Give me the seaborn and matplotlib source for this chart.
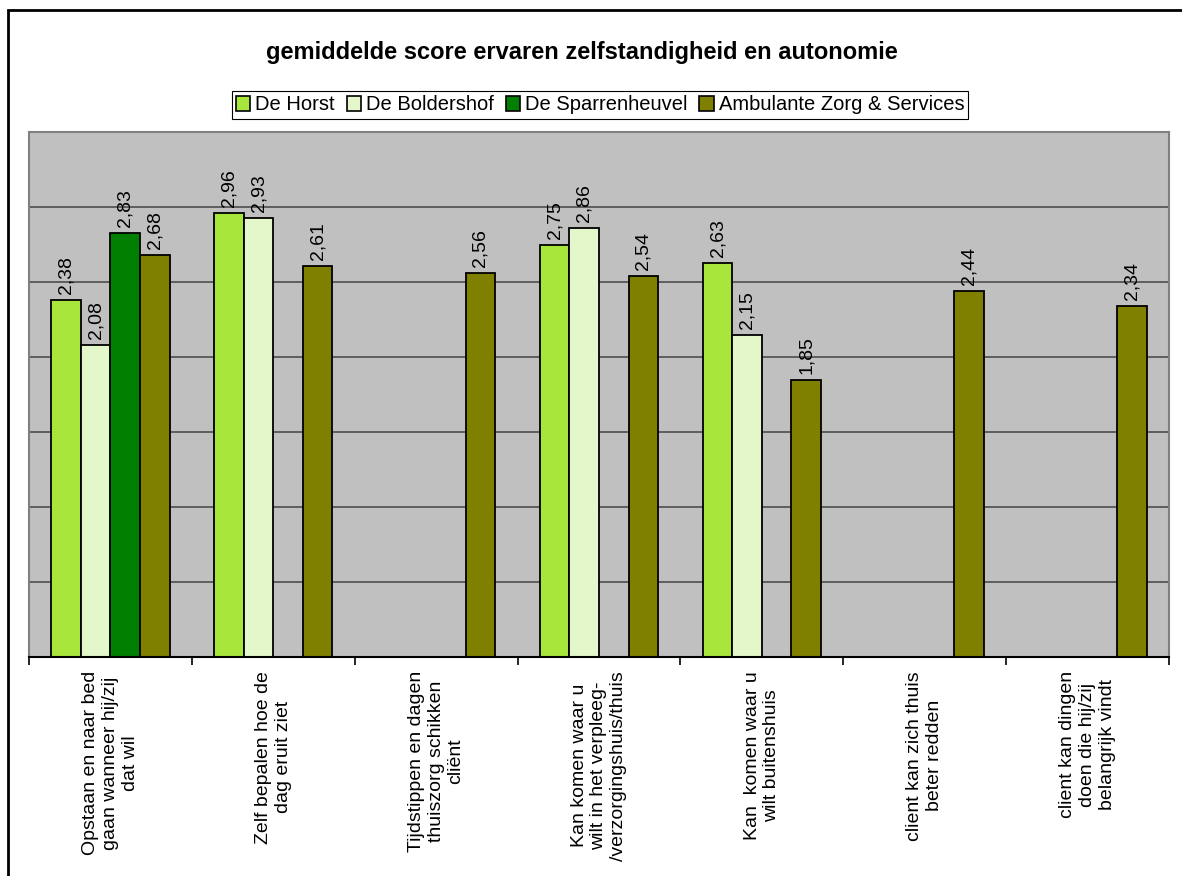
import matplotlib
matplotlib.use("Agg")
import matplotlib.pyplot as plt
import seaborn as sns
import pandas as pd
import numpy as np
from matplotlib.patches import Patch, Rectangle
from matplotlib.ticker import MultipleLocator, FixedLocator, NullFormatter

# Survey questions (x categories)
categories = [
    "Opstaan en naar bed\ngaan wanneer hij/zij\ndat wil",
    "Zelf bepalen hoe de\ndag eruit ziet",
    "Tijdstippen en dagen\nthuiszorg schikken\ncliënt",
    "Kan komen waar u\nwilt in het verpleeg-\n/verzorgingshuis/thuis",
    "Kan  komen waar u\nwilt buitenshuis",
    "client kan zich thuis\nbeter redden",
    "client kan dingen\ndoen die hij/zij\nbelangrijk vindt",
]

series_names = ["De Horst", "De Boldershof", "De Sparrenheuvel",
                "Ambulante Zorg & Services"]

# Mean scores per location (None = question not asked there)
de_horst = [2.38, 2.96, None, 2.75, 2.63, None, None]
de_boldershof = [2.08, 2.93, None, 2.86, 2.15, None, None]
de_sparrenheuvel = [2.83, None, None, None, None, None, None]
ambulante = [2.68, 2.61, 2.56, 2.54, 1.85, 2.44, 2.34]

colors = ["#A8E63C", "#E4F7CA", "#007F00", "#808000"]

title = "gemiddelde score ervaren zelfstandigheid en autonomie"

rows = []
for name, values in zip(series_names,
                        [de_horst, de_boldershof, de_sparrenheuvel, ambulante]):
    for cat, v in zip(categories, values):
        if v is not None:
            rows.append({"vraag": cat, "organisatie": name, "score": v})
df = pd.DataFrame(rows)

sns.set_style("white")
plt.rcParams["font.family"] = ["Liberation Sans", "DejaVu Sans"]
plt.rcParams["text.color"] = "black"
plt.rcParams["xtick.color"] = "black"
plt.rcParams["xtick.labelcolor"] = "black"

W, H = 1182, 876
fig = plt.figure(figsize=(W / 100, H / 100), dpi=100)
ax = fig.add_axes([29 / W, 1 - 657 / H, (1169 - 29) / W, (657 - 132) / H])

sns.barplot(data=df, x="vraag", y="score", hue="organisatie",
            order=categories, hue_order=series_names, palette=colors,
            width=0.726, errorbar=None, edgecolor="black", linewidth=1.3,
            saturation=1, legend=False, ax=ax)

ax.set_facecolor("#C0C0C0")
ax.set_xlim(-0.5, len(categories) - 0.5)
ax.set_ylim(0, 3.5)
ax.yaxis.set_major_locator(MultipleLocator(0.5))
ax.yaxis.set_major_formatter(NullFormatter())
ax.tick_params(axis="y", length=0)
ax.grid(axis="y", color="#4d4d4d", linewidth=1.2)
ax.grid(axis="x", visible=False)
ax.set_axisbelow(True)
ax.set_xlabel("")
ax.set_ylabel("")

# Category labels and boundary ticks
ax.xaxis.set_minor_locator(FixedLocator(np.arange(-0.5, len(categories), 1.0)))
ax.tick_params(axis="x", which="major", length=0, pad=10, labelcolor="black")
ax.tick_params(axis="x", which="minor", length=6, width=1.2, color="black",
               direction="out", bottom=True)
for lbl in ax.get_xticklabels():
    lbl.set_rotation(90)
    lbl.set_ha("center")
    lbl.set_va("top")
    lbl.set_multialignment("center")
    lbl.set_fontsize(14)
    lbl.set_color("black")

for side in ["left", "top", "right"]:
    ax.spines[side].set_color("#808080")
    ax.spines[side].set_linewidth(1.5)
    ax.spines[side].set_visible(True)
ax.spines["bottom"].set_color("black")
ax.spines["bottom"].set_linewidth(1.5)
ax.spines["bottom"].set_visible(True)

# Value labels above bars
for container in ax.containers:
    labels = [f"{v:.2f}".replace(".", ",") for v in container.datavalues]
    ax.bar_label(container, labels=labels, rotation=90, padding=4, fontsize=14,
                 color="black")

# Legend
handles = [Patch(facecolor=c, edgecolor="black", linewidth=1.2, label=n)
           for c, n in zip(colors, series_names)]
leg = fig.legend(handles=handles, loc="center",
                 bbox_to_anchor=(600 / W, 1 - 105 / H), ncol=4, frameon=True,
                 fancybox=False, edgecolor="black", framealpha=1, fontsize=14.5,
                 handlelength=0.7, handleheight=0.7, handletextpad=0.25,
                 columnspacing=0.6, borderpad=0.2, borderaxespad=0,
                 labelcolor="black")
leg.get_frame().set_linewidth(0.8)

fig.text(582 / W, 1 - 52 / H, title, ha="center", va="center",
         fontsize=17, fontweight="bold", color="black")

# Chart border
fig.patches.append(Rectangle((8 / W, -0.02), 1.05, 1 - 10 / H + 0.02,
                             transform=fig.transFigure, fill=False,
                             edgecolor="black", linewidth=2))

fig.savefig("out.png", dpi=100)
